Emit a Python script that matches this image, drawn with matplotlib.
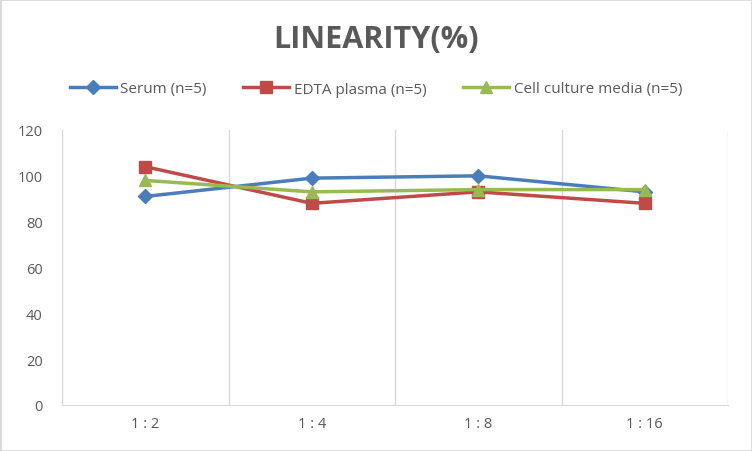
import matplotlib
matplotlib.use("Agg")
import matplotlib.pyplot as plt
from matplotlib.patches import Rectangle

categories = ["1 : 2", "1 : 4", "1 : 8", "1 : 16"]
serum = [91, 99, 100, 93]
edta = [104, 88, 93, 88]
cell = [98, 93, 94, 94]
series_names = ["Serum (n=5)", "EDTA plasma (n=5)", "Cell culture media (n=5)"]
yticks = [0, 20, 40, 60, 80, 100, 120]

plt.rcParams['font.family'] = ['Open Sans', 'DejaVu Sans']

fig = plt.figure(figsize=(7.52, 4.52), dpi=100)
ax = fig.add_axes([62/752, 1 - 406/452, (728-62)/752, (406-131)/452])

x = list(range(len(categories)))
ax.plot(x, serum, color="#4a7ebb", lw=2.5, marker="D", ms=7, label=series_names[0])
ax.plot(x, edta, color="#be4b48", lw=2.5, marker="s", ms=9, label=series_names[1])
ax.plot(x, cell, color="#98b954", lw=2.5, marker="^", ms=9, label=series_names[2])

ax.set_xlim(-0.5, len(categories) - 0.5)
ax.set_ylim(0, 120)
ax.set_yticks(yticks)
ax.set_xticks(x)
ax.set_xticklabels(categories)
for b in [-0.5, 0.5, 1.5, 2.5, 3.5]:
    ax.axvline(b, color="#d9d9d9", lw=1, zorder=0)
for s in ["top", "right", "left"]:
    ax.spines[s].set_visible(False)
ax.spines["bottom"].set_color("#d9d9d9")
ax.tick_params(axis="both", length=0, labelsize=10.5, colors="#595959", pad=8)
ax.tick_params(axis="y", pad=14)

fig.text(0.5, 1 - 40/452, "LINEARITY(%)", ha="center", va="center",
         fontsize=22, fontweight="bold", color="#595959")
leg = fig.legend(loc="center", bbox_to_anchor=(0.5, 1 - 90/452), ncol=3, frameon=False,
                 fontsize=11, labelcolor="#595959", handlelength=3, columnspacing=2.4,
                 handletextpad=0.3)
fig.patches.append(Rectangle((0, 0), 1, 1, transform=fig.transFigure, fill=False,
                             edgecolor="#d9d9d9", lw=2))
fig.savefig("out.png", dpi=100)
